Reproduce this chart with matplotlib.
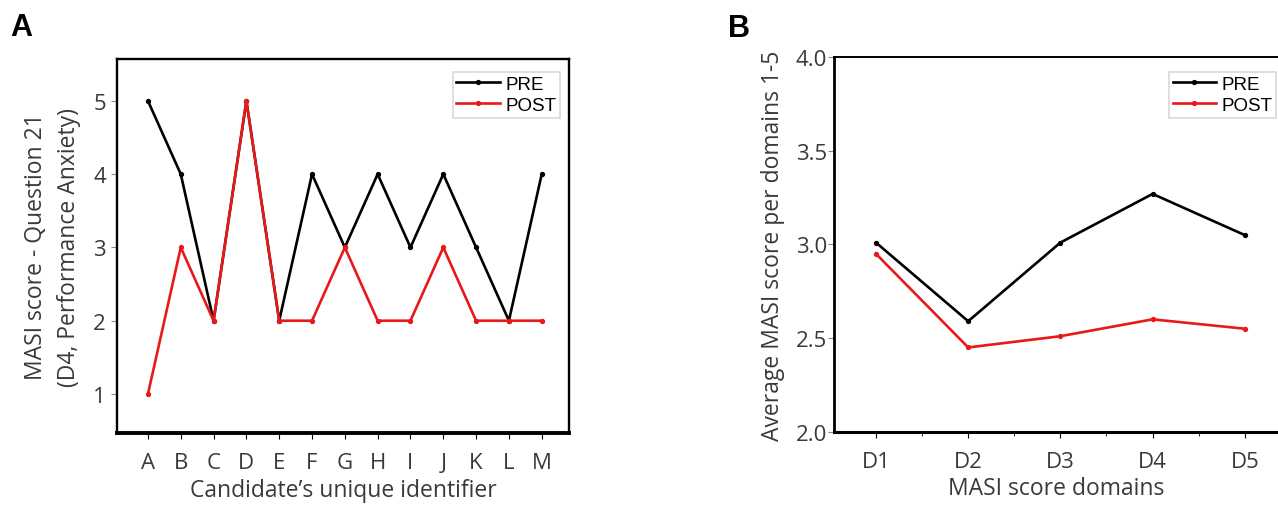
import matplotlib.pyplot as plt

# panel A data
candidates = ["A", "B", "C", "D", "E", "F", "G", "H", "I", "J", "K", "L", "M"]
pre_a = [5, 4, 2, 5, 2, 4, 3, 4, 3, 4, 3, 2, 4]
post_a = [1, 3, 2, 5, 2, 2, 3, 2, 2, 3, 2, 2, 2]

# panel B data
domains = ["D1", "D2", "D3", "D4", "D5"]
pre_b = [3.01, 2.59, 3.01, 3.27, 3.05]
post_b = [2.95, 2.45, 2.51, 2.60, 2.55]

txt = "#3a3a3a"
red = "#e8191b"
plt.rcParams["font.family"] = ["Open Sans", "DejaVu Sans"]

fig = plt.figure(figsize=(12.78, 5.06), dpi=100)
axa = fig.add_axes([0.0915, 0.1423, 0.3537, 0.739])
axb = fig.add_axes([0.6526, 0.1449, 0.3474, 0.740])

legend_kw = dict(prop={"family": "Liberation Sans", "size": 13.5}, frameon=True,
                 fancybox=False, edgecolor="#cfcfcf", borderpad=0.2,
                 handlelength=2.3, handletextpad=0.3, labelspacing=0.22,
                 borderaxespad=0.0, loc="upper right")

# ---- panel A
xa = range(len(candidates))
axa.plot(xa, pre_a, color="black", lw=1.9, marker="o", ms=2.8, label="PRE")
axa.plot(xa, post_a, color=red, lw=1.9, marker="o", ms=2.8, label="POST")
axa.set_xlim(-0.945, 12.83)
axa.set_ylim(0.468, 5.57)
axa.set_xticks(list(xa))
axa.set_xticklabels(candidates)
axa.set_yticks([1, 2, 3, 4, 5])
axa.tick_params(axis="y", length=4, color="#888888", labelsize=16, labelcolor=txt, pad=4)
axa.tick_params(axis="x", length=4, labelsize=16, labelcolor=txt, pad=10)
axa.spines["bottom"].set_linewidth(2.8)
for s in ["top", "left", "right"]:
    axa.spines[s].set_linewidth(1.7)
axa.set_xlabel("Candidate’s unique identifier", fontsize=16.5, color=txt, labelpad=3)
axa.set_ylabel("MASI score - Question 21\n(D4, Performance Anxiety)", fontsize=16.5,
               color=txt, labelpad=9, linespacing=1.45)
leg = axa.legend(bbox_to_anchor=(0.98, 0.966), **legend_kw)
leg.get_frame().set_linewidth(1.2)

# ---- panel B
xb = range(len(domains))
axb.plot(xb, pre_b, color="black", lw=1.9, marker="o", ms=2.8, label="PRE")
axb.plot(xb, post_b, color=red, lw=1.9, marker="o", ms=2.8, label="POST")
axb.set_xlim(-0.455, 4.36)
axb.set_ylim(2.0, 4.0)
axb.set_xticks(list(xb))
axb.set_xticks([i + 0.5 for i in range(4)], minor=True)
axb.set_xticklabels(domains)
axb.set_yticks([2.0, 2.5, 3.0, 3.5, 4.0])
axb.set_yticklabels(["2.0", "2.5", "3.0", "3.5", "4.0"])
axb.tick_params(axis="y", length=4, color="#888888", labelsize=16, labelcolor=txt, pad=1)
axb.tick_params(axis="x", which="major", length=4, labelsize=16, labelcolor=txt, pad=10)
axb.tick_params(axis="x", which="minor", length=3)
axb.spines["left"].set_linewidth(2.0)
axb.spines["top"].set_linewidth(1.4)
axb.spines["bottom"].set_linewidth(2.2)
axb.spines["right"].set_visible(False)
axb.set_xlabel("MASI score domains", fontsize=16.5, color=txt, labelpad=3)
axb.set_ylabel("Average MASI score per domains 1-5", fontsize=16.5, color=txt, labelpad=8)
leg = axb.legend(bbox_to_anchor=(0.9955, 0.961), **legend_kw)
leg.get_frame().set_linewidth(1.2)

fig.text(0.0078, 0.929, "A", fontsize=22, fontweight="bold", family="Liberation Sans",
         va="baseline")
fig.text(0.5696, 0.927, "B", fontsize=22, fontweight="bold", family="Liberation Sans",
         va="baseline")

plt.savefig("out.png", dpi=100)
